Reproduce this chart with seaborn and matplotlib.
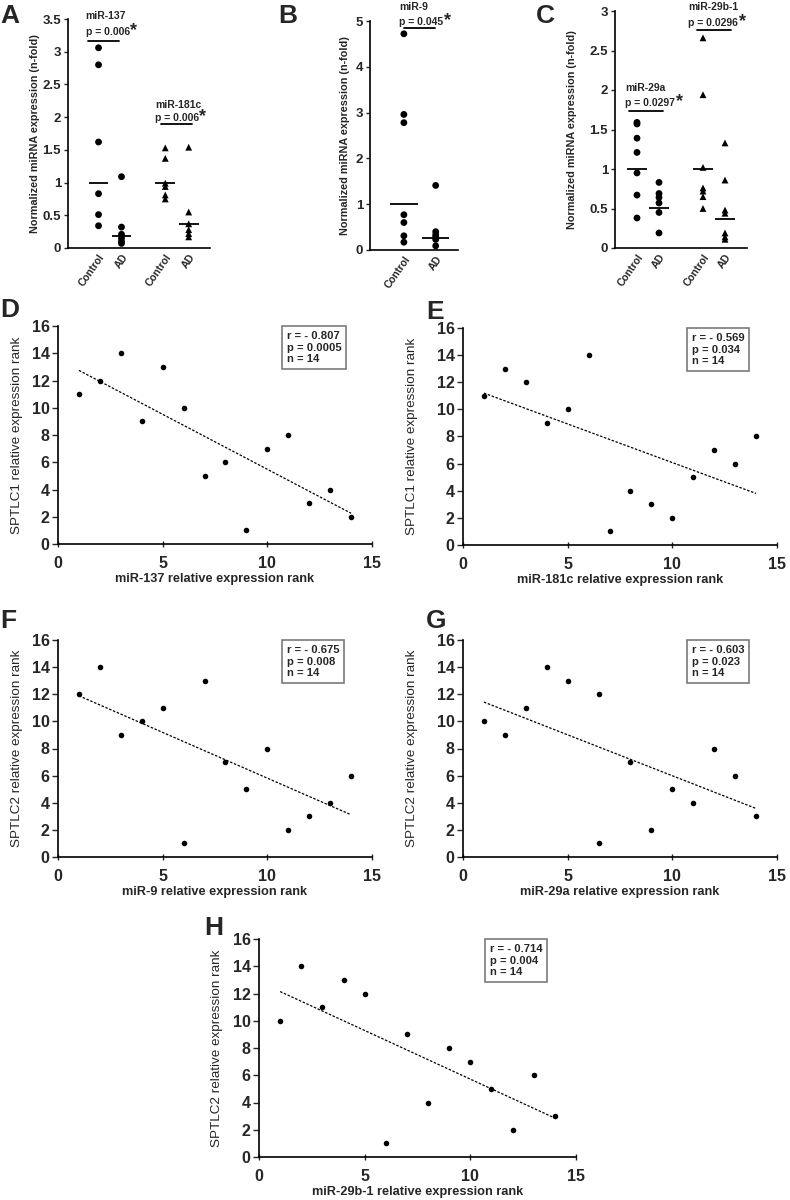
import numpy as np
import pandas as pd
import matplotlib
matplotlib.use("Agg")
import matplotlib.pyplot as plt
import matplotlib.transforms as mtransforms
import seaborn as sns
from matplotlib.ticker import FuncFormatter

# ---------------- data ----------------
group_labels = ["Control", "AD", "Control", "AD"]

# Panel A
a_mir137_control = [3.06, 2.80, 1.62, 0.83, 0.51, 0.34]
a_mir137_ad = [1.09, 0.32, 0.21, 0.15, 0.10, 0.07]
a_mir137_lines = [1.00, 0.19]
a_mir181c_control = [1.53, 1.37, 0.99, 0.94, 0.81, 0.75]
a_mir181c_ad = [1.54, 0.55, 0.37, 0.28, 0.22, 0.17]
a_mir181c_lines = [1.00, 0.37]

# Panel B
b_mir9_control = [4.72, 2.96, 2.78, 0.77, 0.60, 0.31, 0.17]
b_mir9_ad = [1.41, 0.40, 0.33, 0.28, 0.23, 0.09]
b_mir9_lines = [1.00, 0.26]

# Panel C
c_mir29a_control = [1.59, 1.57, 1.39, 1.21, 0.95, 0.67, 0.38]
c_mir29a_ad = [0.83, 0.69, 0.64, 0.57, 0.45, 0.19]
c_mir29a_lines = [1.00, 0.51]
c_mir29b1_control = [2.66, 1.94, 1.02, 0.76, 0.72, 0.65, 0.50]
c_mir29b1_ad = [1.33, 0.86, 0.48, 0.44, 0.19, 0.14, 0.11]
c_mir29b1_lines = [1.00, 0.37]

p_labels = {"miR-137": "p = 0.006", "miR-181c": "p = 0.006", "miR-9": "p = 0.045",
            "miR-29a": "p = 0.0297", "miR-29b-1": "p = 0.0296"}

# Correlation panels
d_x = [1, 2, 3, 4, 5, 6, 7, 8, 9, 10, 11, 12, 13, 14]
d_y = [11, 12, 14, 9, 13, 10, 5, 6, 1, 7, 8, 3, 4, 2]
e_x = [1, 2, 3, 4, 5, 6, 7, 8, 9, 10, 11, 12, 13, 14]
e_y = [11, 13, 12, 9, 10, 14, 1, 4, 3, 2, 5, 7, 6, 8]
f_x = [1, 2, 3, 4, 5, 6, 7, 8, 9, 10, 11, 12, 13, 14]
f_y = [12, 14, 9, 10, 11, 1, 13, 7, 5, 8, 2, 3, 4, 6]
g_x = [1, 2, 3, 4, 5, 6.5, 6.5, 8, 9, 10, 11, 12, 13, 14]
g_y = [10, 9, 11, 14, 13, 12, 1, 7, 2, 5, 4, 8, 6, 3]
h_x = [1, 2, 3, 4, 5, 6, 7, 8, 9, 10, 11, 12, 13, 14]
h_y = [10, 14, 11, 13, 12, 1, 9, 4, 8, 7, 5, 2, 6, 3]

stats_r = ["- 0.807", "- 0.569", "- 0.675", "- 0.603", "- 0.714"]
stats_p = ["0.0005", "0.034", "0.008", "0.023", "0.004"]
stats_n = [14, 14, 14, 14, 14]

# ---------------- style ----------------
sns.set_theme(style="ticks")
plt.rcParams["font.family"] = ["Liberation Sans", "DejaVu Sans"]
plt.rcParams["font.weight"] = "bold"
plt.rcParams["axes.linewidth"] = 1.2
plt.rcParams["axes.edgecolor"] = "black"

W, H = 790, 1200
fig = plt.figure(figsize=(W / 100, H / 100), dpi=100)
fig.patch.set_facecolor("white")


def add_ax(l, r, t, b):
    return fig.add_axes([l / W, 1 - b / H, (r - l) / W, (b - t) / H])


def fmt(v, _):
    return "%g" % v


def place_ylabel(ax, x_px):
    tr = mtransforms.blended_transform_factory(fig.transFigure, ax.transAxes)
    ax.yaxis.set_label_coords(x_px / W, 0.5, transform=tr)
    ax.yaxis.label.set_va("center")


def strip_panel(ax, sets, lines, positions, xlim, ylim, ystep, halfw, annots, ylabel_x):
    rows = []
    for (vals, pos, mk) in sets:
        for v in vals:
            rows.append({"pos": pos, "value": v, "mk": mk})
    df = pd.DataFrame(rows)
    sns.scatterplot(data=df, x="pos", y="value", style="mk",
                    markers={"o": "o", "^": "^"}, color="black", s=24,
                    edgecolor="black", linewidth=0, legend=False, ax=ax, clip_on=False)
    for pos, lv in zip(positions, lines):
        ax.hlines(lv, pos - halfw, pos + halfw, color="black", lw=1.3)
    ax.set_xlim(*xlim)
    ax.set_ylim(*ylim)
    ax.set_yticks(np.arange(ylim[0], ylim[1] + 1e-9, ystep))
    ax.yaxis.set_major_formatter(FuncFormatter(fmt))
    ax.set_xticks(positions)
    ax.set_xticklabels(group_labels[:len(positions)], rotation=55, ha="right",
                       va="top", rotation_mode="anchor", fontsize=7.5, fontweight="bold")
    ax.tick_params(axis="x", length=0, pad=3)
    ax.tick_params(axis="y", length=3, width=1.0, labelsize=9.5, pad=2, direction="out")
    ax.set_xlabel("")
    ax.set_ylabel("Normalized miRNA expression (n-fold)", fontsize=7.8, fontweight="bold")
    place_ylabel(ax, ylabel_x)
    sns.despine(ax=ax)
    for (name, ptxt, tx, x0, x1, ly, py, ny) in annots:
        ax.plot([x0, x1], [ly, ly], color="black", lw=1.3, clip_on=False)
        t = ax.text(tx, py, ptxt, ha="left", va="center", fontsize=7.5,
                    fontweight="bold", clip_on=False)
        ax.annotate("*", xy=(1, 1), xycoords=t, xytext=(0.3, 3.5),
                    textcoords="offset points", ha="left", va="top",
                    fontsize=13, fontweight="bold", annotation_clip=False)
        ax.text(tx, ny, name, ha="left", va="center", fontsize=7.5,
                fontweight="bold", clip_on=False)


# ---------- Panel A ----------
axA = add_ax(68, 210, 19, 248)
posA = [1.29, 2.26, 4.11, 5.10]
strip_panel(axA,
            [(a_mir137_control, posA[0], "o"), (a_mir137_ad, posA[1], "o"),
             (a_mir181c_control, posA[2], "^"), (a_mir181c_ad, posA[3], "^")],
            a_mir137_lines + a_mir181c_lines,
            posA, (0, 6), (0, 3.5), 0.5, 0.42,
            [("miR-137", p_labels["miR-137"], 0.75, 0.85, 2.15, 3.17, 3.30, 3.54),
             ("miR-181c", p_labels["miR-181c"], 3.67, 3.91, 5.23, 1.90, 1.98, 2.18)],
            35)

# ---------- Panel B ----------
axB = add_ax(370, 458, 21, 250)
posB = [1.155, 2.24]
strip_panel(axB,
            [(b_mir9_control, posB[0], "o"), (b_mir9_ad, posB[1], "o")],
            b_mir9_lines,
            posB, (0, 3), (0, 5), 1, 0.47,
            [("miR-9", p_labels["miR-9"], 1.0, 1.17, 2.21, 4.85, 4.97, 5.30)],
            345)

# ---------- Panel C ----------
axC = add_ax(615, 747, 11, 248)
posC = [1.0, 2.0, 4.0, 5.0]
strip_panel(axC,
            [(c_mir29a_control, posC[0], "o"), (c_mir29a_ad, posC[1], "o"),
             (c_mir29b1_control, posC[2], "^"), (c_mir29b1_ad, posC[3], "^")],
            c_mir29a_lines + c_mir29b1_lines,
            posC, (0, 6), (0, 3), 0.5, 0.45,
            [("miR-29a", p_labels["miR-29a"], 0.46, 0.65, 2.2, 1.73, 1.83, 2.03),
             ("miR-29b-1", p_labels["miR-29b-1"], 3.34, 3.72, 5.27, 2.76, 2.85, 3.05)],
            572)


# ---------- correlation panels ----------
def corr_panel(ax, x, y, xlabel, ylabel, i, ylabel_x):
    df = pd.DataFrame({"x": x, "y": y})
    sns.scatterplot(data=df, x="x", y="y", color="black", s=16, linewidth=0,
                    ax=ax, clip_on=False)
    sns.regplot(data=df, x="x", y="y", scatter=False, ci=None, ax=ax,
                line_kws=dict(color="black", lw=0.9, ls=(0, (2.0, 1.3))))
    ax.set_xlim(0, 15)
    ax.set_ylim(0, 16)
    ax.set_xticks([0, 5, 10, 15])
    ax.set_yticks(np.arange(0, 17, 2))
    ax.tick_params(axis="x", length=5, width=1.0, direction="inout", labelsize=11.5, pad=6)
    ax.tick_params(axis="y", length=4, width=1.0, direction="out", labelsize=11.5, pad=2)
    for lab in ax.get_xticklabels() + ax.get_yticklabels():
        lab.set_fontweight("bold")
    ax.set_xlabel(xlabel, fontsize=9.2, fontweight="bold")
    ax.xaxis.set_label_coords(0.5, -0.16)
    ax.xaxis.label.set_va("center")
    ax.set_ylabel(ylabel, fontsize=9.7, fontweight="normal")
    place_ylabel(ax, ylabel_x)
    sns.despine(ax=ax)
    ax.text(0.728, 0.975, "r = %s\np = %s\nn = %d" % (stats_r[i], stats_p[i], stats_n[i]),
            transform=ax.transAxes, ha="left", va="top", fontsize=8.1,
            fontweight="bold", linespacing=1.15,
            bbox=dict(boxstyle="square,pad=0.45", fc="white", ec="#7a7a7a", lw=1.2))


axD = add_ax(58, 372, 326, 544)
corr_panel(axD, d_x, d_y, "miR-137 relative expression rank",
           "SPTLC1 relative expression rank", 0, 17)
axE = add_ax(463, 777, 328, 545)
corr_panel(axE, e_x, e_y, "miR-181c relative expression rank",
           "SPTLC1 relative expression rank", 1, 412)
axF = add_ax(58, 372, 640, 857)
corr_panel(axF, f_x, f_y, "miR-9 relative expression rank",
           "SPTLC2 relative expression rank", 2, 17)
axG = add_ax(463, 777, 640, 857)
corr_panel(axG, g_x, g_y, "miR-29a relative expression rank",
           "SPTLC2 relative expression rank", 3, 412)
axH = add_ax(259, 576, 939, 1157)
corr_panel(axH, h_x, h_y, "miR-29b-1 relative expression rank",
           "SPTLC2 relative expression rank", 4, 217)

# ---------- panel letters ----------
for letter, px, py in [("A", 0, 4), ("B", 278, 4), ("C", 536, 4), ("D", 0, 298),
                       ("E", 426, 300), ("F", 0, 609), ("G", 426, 609), ("H", 204, 916)]:
    fig.text(px / W, 1 - py / H, letter, ha="left", va="top", fontsize=19,
             fontweight="bold")

fig.savefig("out.png", dpi=100, facecolor="white")
